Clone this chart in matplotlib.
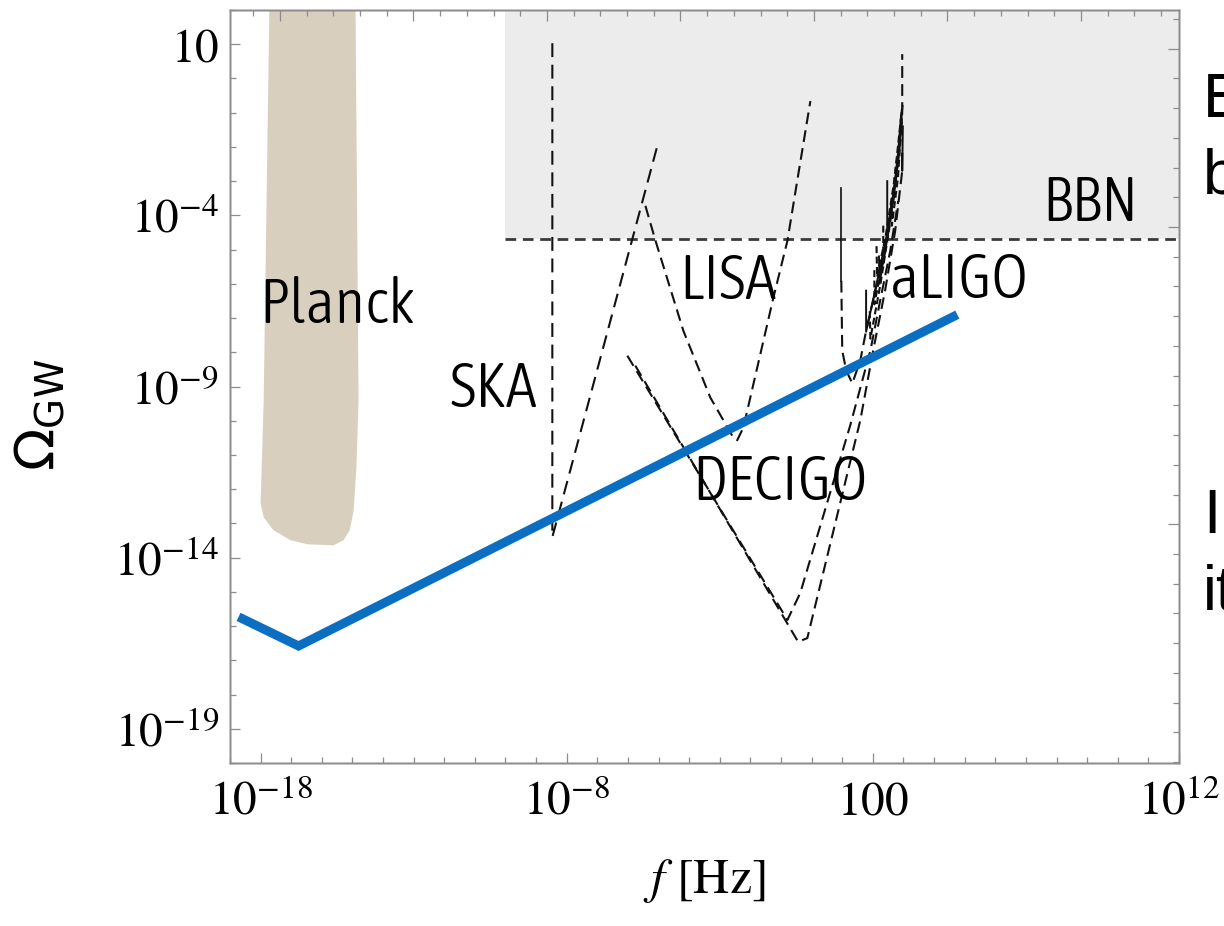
import os
import numpy as np
import matplotlib.pyplot as plt
from matplotlib import font_manager as fm
from matplotlib.ticker import FixedLocator, MultipleLocator, NullFormatter

plt.rcParams['mathtext.fontset'] = 'stix'
plt.rcParams['lines.scale_dashes'] = False

# all values are log10(f / Hz) and log10(Omega_GW)
planck_logf = [-17.71, -17.90, -18.00, -17.90, -17.58, -17.02, -16.47, -15.62,
               -15.29, -15.09, -14.96, -14.87, -14.80, -14.90]
planck_logo = [2.3, -9.41, -12.41, -12.82, -13.20, -13.49, -13.61, -13.64,
               -13.49, -13.20, -12.62, -11.36, -9.41, 2.3]

bbn_logf = [-10.0, 12.0]
bbn_logo = -4.69

ska_logf = [-8.47, -8.47, -5.04]
ska_logo = [1.03, -13.40, -1.97]

lisa_logf = [-5.43, -5.10, -4.19, -3.31, -2.56, -2.43, -2.23, -1.25, -0.79, -0.47, -0.04]
lisa_logo = [-3.72, -4.74, -7.37, -9.32, -10.49, -10.57, -10.20, -6.41, -4.74, -2.99, -0.66]

decigo_logf = [-6.02, -0.79, -0.37, 1.26, 1.92, 2.24, 2.57, 2.83]
decigo_logo = [-8.10, -15.82, -15.03, -10.14, -7.95, -6.49, -5.03, -3.58]

bbo_logf = [-5.76, -0.44, -0.14, 1.59, 2.01, 2.40, 2.73, 2.96]
bbo_logo = [-8.39, -16.46, -16.35, -9.99, -7.95, -6.20, -4.45, -2.70]

aligo_wall_logf = [0.97, 0.97]
aligo_wall_logo = [-3.20, -5.91]
aligo_logf = [0.97, 1.00, 1.13, 1.33, 1.59, 1.78, 2.08, 2.40, 2.67, 2.86, 2.96, 2.96]
aligo_logo = [-5.91, -7.95, -8.53, -8.91, -8.24, -7.37, -6.20, -5.03, -3.58, -2.12, -0.95, 0.71]

# runs of the ground based detectors
runs_logf = [
    [1.78, 1.78, 2.10, 2.45, 2.75, 2.93],
    [2.05, 2.05, 2.35, 2.65, 2.95],
    [2.47, 2.47, 2.70, 2.93],
    [2.34, 2.34, 2.62, 2.90],
    [2.96, 2.96, 2.98],
    [1.90, 1.92, 2.25, 2.55, 2.80, 2.95],
    [2.20, 2.22, 2.50, 2.78, 2.97],
    [2.60, 2.62, 2.82, 2.96],
    [2.12, 2.14, 2.42, 2.70, 2.91],
]
runs_logo = [
    [-6.2, -7.4, -6.1, -4.6, -3.0, -1.0],
    [-5.6, -6.6, -5.2, -3.4, -0.9],
    [-3.0, -4.5, -3.2, -1.3],
    [-4.3, -5.4, -3.8, -1.8],
    [-2.2, -2.7, -1.4],
    [-6.8, -7.6, -6.0, -4.3, -2.6, -1.2],
    [-5.2, -6.0, -4.4, -2.7, -0.8],
    [-3.6, -4.3, -2.9, -1.0],
    [-4.9, -5.8, -4.6, -3.0, -1.5],
]
runs_dashed = [False, True, False, True, False, True, False, True, True]

model_logf = [-18.72, -16.76, 4.76]
model_logo = [-15.73, -16.58, -6.90]

labels = ['Planck', 'SKA', 'LISA', 'aLIGO', 'BBN', 'DECIGO']
label_logf = [-15.49, -10.39, -2.75, 4.82, 9.10, -1.02]
label_logo = [-7.13, -9.61, -6.43, -6.41, -4.16, -12.32]


def narrow_font():
    # look for any condensed / narrow sans face that is installed
    best, best_score = None, None
    for f in fm.fontManager.ttflist:
        fn = os.path.basename(f.fname).lower()
        if 'mono' in fn or 'italic' in fn or 'oblique' in fn or 'serif' in f.name.lower():
            continue
        narrow = (str(f.stretch) in ('condensed', 'semi-condensed', 'extra-condensed', 'ultra-condensed')
                  or 'condensed' in fn or 'narrow' in fn)
        if not narrow:
            continue
        w = f.weight if isinstance(f.weight, int) else fm.weight_dict.get(f.weight, 400)
        score = abs(w - 330)
        if best_score is None or score < best_score:
            best, best_score = f, score
    return best


nf = narrow_font()
if nf is not None:
    label_font = dict(fontproperties=fm.FontProperties(fname=nf.fname, size=45))
else:
    label_font = dict(family=['Roboto', 'DejaVu Sans'], fontsize=36, fontweight='light')

fig = plt.figure(figsize=(12.24, 9.26), dpi=100)
ax = fig.add_axes([0.1879, 0.1760, 0.7753, 0.8132])


def lg(v):
    return 10.0 ** np.asarray(v)


ax.fill(lg(planck_logf), lg(planck_logo), color='#d8cfbf', lw=0, zorder=1)
ax.fill_between(lg(bbn_logf), 10 ** bbn_logo, 1e3, color='#ececec', lw=0, zorder=0.5)
ax.plot(lg(bbn_logf), [10 ** bbn_logo] * 2, color='#3a3a3a', lw=2.0,
        dashes=(7.7, 4.8), zorder=2)

dk = '#111111'
ax.plot(lg(ska_logf), lg(ska_logo), color=dk, lw=1.5, dashes=(10, 5.5), zorder=3)
ax.plot(lg(lisa_logf), lg(lisa_logo), color=dk, lw=1.5, dashes=(8.5, 4.5), zorder=3)
ax.plot(lg(decigo_logf), lg(decigo_logo), color=dk, lw=1.5, dashes=(8.5, 4.5), zorder=3)
ax.plot(lg(bbo_logf), lg(bbo_logo), color=dk, lw=1.5, dashes=(8.5, 4.5), zorder=3)
ax.plot(lg(aligo_wall_logf), lg(aligo_wall_logo), color=dk, lw=1.2, zorder=3)
ax.plot(lg(aligo_logf), lg(aligo_logo), color=dk, lw=1.5, dashes=(8.5, 4.5), zorder=3)
for lf, lo, d in zip(runs_logf, runs_logo, runs_dashed):
    if d:
        ax.plot(lg(lf), lg(lo), color=dk, lw=1.5, dashes=(5, 2.5), zorder=3)
    else:
        ax.plot(lg(lf), lg(lo), color=dk, lw=1.4, zorder=3)

ax.plot(lg(model_logf), lg(model_logo), color='#0a6fc2', lw=6.5,
        solid_capstyle='butt', solid_joinstyle='miter', zorder=4)

for t, lf, lo in zip(labels, label_logf, label_logo):
    ax.text(10 ** lf, 10 ** lo, t, ha='center', va='baseline', zorder=5, **label_font)

ax.set_xscale('log')
ax.set_yscale('log')
ax.set_xlim(1e-19, 1e12)
ax.set_ylim(1e-20, 1e2)

xt = [1e-18, 1e-8, 1e2, 1e12]
ax.xaxis.set_major_locator(FixedLocator(xt))
ax.set_xticklabels([r'$10^{-18}$', r'$10^{-8}$', r'$100$', r'$10^{12}$'])
ax.xaxis.set_minor_locator(FixedLocator(lg(np.arange(-19, 13))))
ax.xaxis.set_minor_formatter(NullFormatter())

yt = [1e1, 1e-4, 1e-9, 1e-14, 1e-19]
ax.yaxis.set_major_locator(FixedLocator(yt))
ax.set_yticklabels([r'$10$', r'$10^{-4}$', r'$10^{-9}$', r'$10^{-14}$', r'$10^{-19}$'])
ax.yaxis.set_minor_locator(FixedLocator(lg(np.arange(-20, 3))))
ax.yaxis.set_minor_formatter(NullFormatter())

gray = '#8c8c8c'
ax.tick_params(which='both', direction='in', color=gray, width=0.9, labelsize=34)
ax.tick_params(which='major', length=7.5)
ax.tick_params(which='minor', length=4)
ax.tick_params(axis='y', pad=8)
ax.tick_params(axis='x', pad=37)
for lbl in ax.get_xticklabels():
    lbl.set_verticalalignment('baseline')
for s in ax.spines.values():
    s.set_color(gray)
    s.set_linewidth(1.0)

# frame ticks on top and right follow their own spacing
ax_top = ax.twiny()
ax_top.set_xlim(-1.87, 33.67)
ax_top.xaxis.set_major_locator(MultipleLocator(5))
ax_top.xaxis.set_minor_locator(MultipleLocator(1))
ax_top.tick_params(axis='x', which='both', direction='in', color=gray, width=0.9,
                   top=True, bottom=False, labeltop=False, labelbottom=False)
ax_top.tick_params(axis='x', which='major', length=8)
ax_top.tick_params(axis='x', which='minor', length=4.5)

ax_r = ax.twinx()
ax_r.set_ylim(25.03, -0.30)
ax_r.yaxis.set_major_locator(FixedLocator([1, 7, 17]))
ax_r.yaxis.set_minor_locator(MultipleLocator(1))
ax_r.tick_params(axis='y', which='both', direction='in', color=gray, width=0.9,
                 right=True, left=False, labelright=False, labelleft=False)
ax_r.tick_params(axis='y', which='major', length=8)
ax_r.tick_params(axis='y', which='minor', length=4.5)
for a in (ax_top, ax_r):
    for s in a.spines.values():
        s.set_color(gray)
        s.set_linewidth(1.0)

fig.text(40 / 1224, 1 - 415 / 926, r'$\Omega_{\mathrm{GW}}$', rotation=90,
         fontsize=40, ha='center', va='center', math_fontfamily='dejavusans')
fig.text(704 / 1224, 1 - 893 / 926, r'$f\ [\mathrm{Hz}]$', fontsize=36,
         ha='center', va='baseline')

# slide text cut off at the right edge
for t, yb in [('E', 117), ('b', 193), ('I', 533), ('it', 610)]:
    fig.text(1203 / 1224, 1 - yb / 926, t, fontsize=45, ha='left', va='baseline',
             family=['Liberation Sans', 'DejaVu Sans'])

fig.savefig('out.png', dpi=100)
